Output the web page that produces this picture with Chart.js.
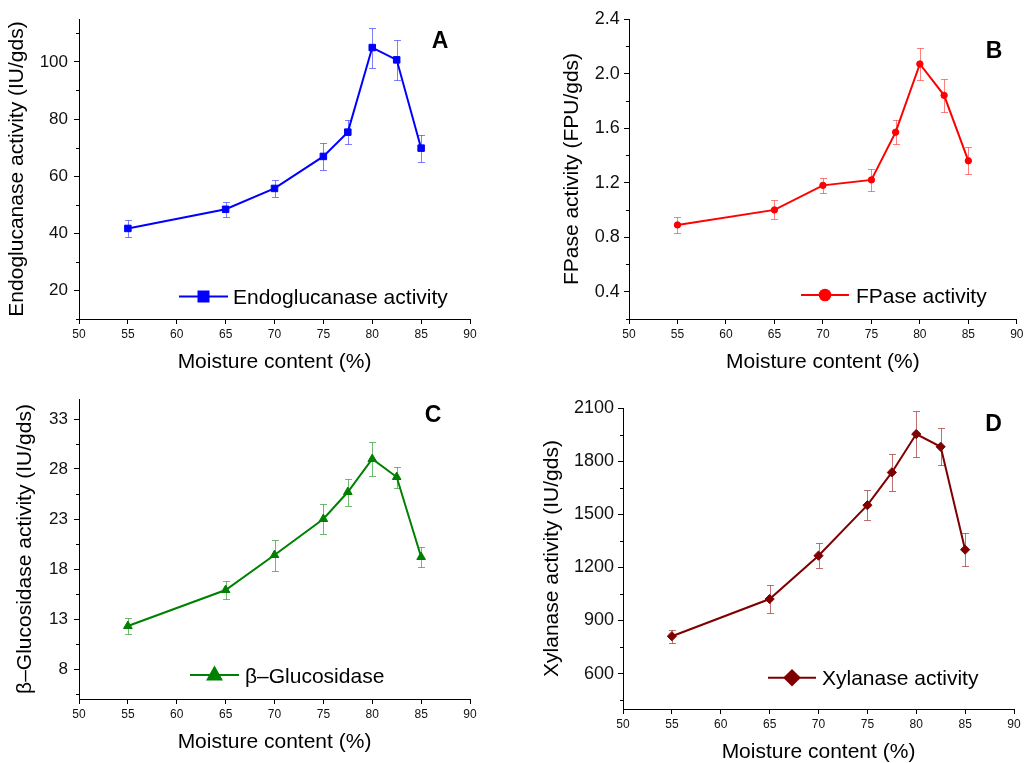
<!DOCTYPE html>
<html>
<head>
<meta charset="utf-8">
<script src="https://cdn.jsdelivr.net/npm/chart.js@4.4.0/dist/chart.umd.min.js"></script>
<style>
  body { margin: 0; background: #fff; overflow: hidden; }
  .panel { position: absolute; }
</style>
</head>
<body>
<div class="panel" id="pA" style="left:0;top:0;width:490px;height:380px"><canvas></canvas></div>
<div class="panel" id="pB" style="left:510px;top:0;width:517px;height:380px"><canvas></canvas></div>
<div class="panel" id="pC" style="left:0;top:380px;width:490px;height:383px"><canvas></canvas></div>
<div class="panel" id="pD" style="left:510px;top:380px;width:517px;height:383px"><canvas></canvas></div>
<script>
// moisture levels (x) shared by all four panels
const moisture = [55, 65, 70, 75, 77.5, 80, 82.5, 85];
const xTicks = [50, 55, 60, 65, 70, 75, 80, 85, 90];

// A - endoglucanase
const endoglucanase = [41.7, 48.4, 55.7, 66.9, 75.4, 105.0, 100.7, 69.8];
const endoglucanaseErr = [2.9, 2.6, 2.9, 4.6, 4.3, 7.0, 7.1, 4.7];
const endoTicks = [20, 40, 60, 80, 100];
const endoMinor = [10, 30, 50, 70, 90, 110];

// B - FPase
const fpase = [0.89, 1.00, 1.18, 1.22, 1.57, 2.07, 1.84, 1.36];
const fpaseErr = [0.06, 0.07, 0.055, 0.08, 0.09, 0.12, 0.12, 0.10];
const fpaseTicks = [0.4, 0.8, 1.2, 1.6, 2.0, 2.4];
const fpaseMinor = [0.2, 0.6, 1.0, 1.4, 1.8, 2.2];

// C - beta-glucosidase
const glucosidase = [12.3, 15.9, 19.4, 23.0, 25.7, 29.0, 27.2, 19.2];
const glucosidaseErr = [0.8, 0.9, 1.55, 1.5, 1.35, 1.75, 1.05, 1.0];
const glucTicks = [8, 13, 18, 23, 28, 33];
const glucMinor = [5.5, 10.5, 15.5, 20.5, 25.5, 30.5];

// D - xylanase
const xylanase = [811, 1021, 1266, 1551, 1736, 1953, 1881, 1300];
const xylanaseErr = [38, 80, 72, 85, 107, 128, 104, 93];
const xylTicks = [600, 900, 1200, 1500, 1800, 2100];
const xylMinor = [450, 750, 1050, 1350, 1650, 1950];

const FONT = 'Liberation Sans, Arial, Helvetica, sans-serif';
Chart.defaults.font.family = FONT;
Chart.defaults.color = '#000';

function drawMarker(ctx, style, x, y) {
  ctx.beginPath();
  if (style === 'rect') {
    ctx.rect(x - 6, y - 6, 12, 12);
  } else if (style === 'circle') {
    ctx.arc(x, y, 6.3, 0, Math.PI * 2);
  } else if (style === 'triangle') {
    ctx.moveTo(x, y - 9.5);
    ctx.lineTo(x + 8.5, y + 5.5);
    ctx.lineTo(x - 8.5, y + 5.5);
    ctx.closePath();
  } else {
    ctx.moveTo(x, y - 8.7);
    ctx.lineTo(x + 8.8, y);
    ctx.lineTo(x, y + 8.7);
    ctx.lineTo(x - 8.8, y);
    ctx.closePath();
  }
  ctx.fill();
}

// error bars, minor ticks, inset legend and panel letter
const extras = {
  id: 'extras',
  beforeDatasetsDraw(chart, args, opts) {
    const ctx = chart.ctx, xs = chart.scales.x, ys = chart.scales.y;
    const pts = chart.data.datasets[0].data;
    ctx.save();
    ctx.strokeStyle = opts.errColor;
    ctx.lineWidth = 1;
    pts.forEach((p, i) => {
      const x = Math.round(xs.getPixelForValue(p.x)) + 0.5;
      const y1 = Math.round(ys.getPixelForValue(p.y + opts.errors[i])) + 0.5;
      const y2 = Math.round(ys.getPixelForValue(p.y - opts.errors[i])) + 0.5;
      ctx.beginPath();
      ctx.moveTo(x, y1); ctx.lineTo(x, y2);
      ctx.moveTo(x - 3.5, y1); ctx.lineTo(x + 3.5, y1);
      ctx.moveTo(x - 3.5, y2); ctx.lineTo(x + 3.5, y2);
      ctx.stroke();
    });
    ctx.restore();
  },
  afterDraw(chart, args, opts) {
    const ctx = chart.ctx, ys = chart.scales.y, area = chart.chartArea;
    const ds = chart.data.datasets[0];
    ctx.save();
    ctx.strokeStyle = '#000';
    ctx.lineWidth = 1;
    opts.minor.forEach(v => {
      const y = Math.round(ys.getPixelForValue(v)) + 0.5;
      ctx.beginPath();
      ctx.moveTo(area.left - 3, y);
      ctx.lineTo(area.left, y);
      ctx.stroke();
    });

    const lg = opts.legend;
    ctx.strokeStyle = ds.borderColor;
    ctx.fillStyle = ds.borderColor;
    ctx.lineWidth = 2;
    ctx.beginPath();
    ctx.moveTo(lg.x1, lg.y);
    ctx.lineTo(lg.x2, lg.y);
    ctx.stroke();
    drawMarker(ctx, ds.pointStyle, (lg.x1 + lg.x2) / 2, lg.y);
    ctx.fillStyle = '#000';
    ctx.font = '21px ' + FONT;
    ctx.textBaseline = 'alphabetic';
    ctx.textAlign = 'left';
    ctx.fillText(ds.label, lg.tx, lg.y + 7.5);

    ctx.font = 'bold 23px ' + FONT;
    ctx.textAlign = 'center';
    ctx.fillText(opts.letter, opts.letterX, opts.letterY);
    ctx.restore();
  }
};

function panel(id, o) {
  const div = document.getElementById(id);
  const W = div.clientWidth, H = div.clientHeight;
  new Chart(div.querySelector('canvas'), {
    type: 'line',
    data: {
      datasets: [{
        label: o.label,
        data: moisture.map((m, i) => ({ x: m, y: o.values[i] })),
        borderColor: o.color,
        backgroundColor: o.color,
        borderWidth: 2,
        pointStyle: o.marker,
        pointRadius: o.radius,
        pointBorderWidth: 1,
        pointBackgroundColor: o.color,
        pointBorderColor: o.color
      }]
    },
    options: {
      responsive: true,
      maintainAspectRatio: false,
      animation: false,
      devicePixelRatio: 1,
      layout: { padding: { top: o.area.top, right: W - o.area.right, left: 0, bottom: 0 } },
      plugins: {
        legend: { display: false },
        tooltip: { enabled: false },
        extras: {
          errors: o.errors, errColor: o.errColor, minor: o.minor,
          legend: o.legend, letter: o.letter, letterX: o.letterPos[0], letterY: o.letterPos[1]
        }
      },
      scales: {
        x: {
          type: 'linear', min: 50, max: 90,
          afterBuildTicks: s => { s.ticks = xTicks.map(v => ({ value: v })); },
          afterFit: s => { s.height = H - o.area.bottom; },
          grid: { drawOnChartArea: false, tickLength: 5, color: '#000' },
          border: { color: '#000', width: 1 },
          ticks: { font: { size: 12 }, padding: 3.5, autoSkip: false, maxRotation: 0, color: '#111' },
          title: { display: true, text: 'Moisture content (%)', font: { size: 21 }, padding: { top: 0, bottom: o.xTitlePad } }
        },
        y: {
          type: 'linear', min: o.min, max: o.max,
          afterBuildTicks: s => { s.ticks = o.ticks.map(v => ({ value: v })); },
          afterFit: s => { s.width = o.area.left; },
          grid: { drawOnChartArea: false, tickLength: 5, color: '#000' },
          border: { color: '#000', width: 1 },
          ticks: {
            font: { size: o.yFont }, padding: o.yPad, autoSkip: false, color: '#111',
            callback: v => o.fmt ? v.toFixed(o.fmt) : String(v)
          },
          title: { display: true, text: o.yTitle, font: { size: 21 }, padding: { top: o.yTitlePad, bottom: 0 } }
        }
      }
    },
    plugins: [extras]
  });
}

panel('pA', {
  label: 'Endoglucanase activity', yTitle: 'Endoglucanase activity (IU/gds)',
  values: endoglucanase, errors: endoglucanaseErr, ticks: endoTicks, minor: endoMinor,
  min: 10, max: 115, color: '#0000ff', errColor: 'rgba(40,40,255,0.6)', marker: 'rect', radius: 4.6,
  area: { left: 79, right: 470, top: 19, bottom: 319 },
  yFont: 17, yPad: 6, yTitlePad: 5, xTitlePad: 5.4,
  legend: { x1: 179, x2: 228, y: 296.5, tx: 233 }, letter: 'A', letterPos: [440, 47.7]
});

panel('pB', {
  label: 'FPase activity', yTitle: 'FPase activity (FPU/gds)',
  values: fpase, errors: fpaseErr, ticks: fpaseTicks, minor: fpaseMinor, fmt: 1,
  min: 0.2, max: 2.4, color: '#ff0000', errColor: 'rgba(255,40,40,0.6)', marker: 'circle', radius: 3.2,
  area: { left: 119, right: 510, top: 19, bottom: 319 },
  yFont: 18, yPad: 4.3, yTitlePad: 49.7, xTitlePad: 5.4,
  legend: { x1: 291, x2: 339, y: 295, tx: 346 }, letter: 'B', letterPos: [484, 57.7]
});

panel('pC', {
  label: 'β–Glucosidase', yTitle: 'β–Glucosidase activity (IU/gds)',
  values: glucosidase, errors: glucosidaseErr, ticks: glucTicks, minor: glucMinor,
  min: 5, max: 35, color: '#008000', errColor: 'rgba(20,140,20,0.6)', marker: 'triangle', radius: 5,
  area: { left: 79, right: 470, top: 19, bottom: 319 },
  yFont: 17, yPad: 6, yTitlePad: 12.4, xTitlePad: 8.4,
  legend: { x1: 190, x2: 239, y: 295, tx: 245 }, letter: 'C', letterPos: [433, 41.7]
});

panel('pD', {
  label: 'Xylanase activity', yTitle: 'Xylanase activity (IU/gds)',
  values: xylanase, errors: xylanaseErr, ticks: xylTicks, minor: xylMinor,
  min: 400, max: 2100, color: '#800000', errColor: 'rgba(140,20,20,0.6)', marker: 'rectRot', radius: 4.6,
  area: { left: 113, right: 504, top: 28, bottom: 329 },
  yFont: 18, yPad: 4, yTitlePad: 29.7, xTitlePad: -1.6,
  legend: { x1: 258, x2: 306, y: 297.7, tx: 312 }, letter: 'D', letterPos: [483.5, 51]
});
</script>
</body>
</html>
